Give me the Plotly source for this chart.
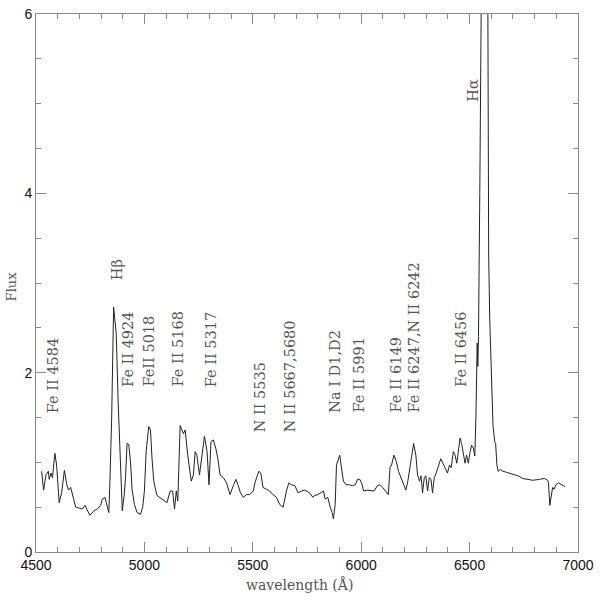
import plotly.graph_objects as go

# Spectrum
wavelength = [
    4526, 4535, 4546, 4557, 4561, 4569, 4576, 4587, 4595, 4607, 4618, 4631, 4642, 4650, 4660,
    4671, 4683, 4699, 4714, 4726, 4737, 4748, 4768, 4783, 4798, 4806, 4818, 4826, 4836, 4841,
    4849, 4858, 4864, 4870, 4879, 4890, 4898, 4907, 4913, 4920, 4928, 4937, 4943, 4954, 4966,
    4982, 4992, 5000, 5008, 5020, 5028, 5035, 5043, 5058, 5081, 5104, 5119, 5130, 5139, 5147,
    5154, 5165, 5173, 5180, 5188, 5200, 5216, 5226, 5234, 5242, 5254, 5265, 5277, 5289, 5298,
    5307, 5318, 5329, 5338, 5349, 5364, 5379, 5395, 5410, 5422, 5433, 5443, 5456, 5471, 5486,
    5502, 5512, 5528, 5537, 5547, 5563, 5578, 5593, 5609, 5624, 5640, 5655, 5666, 5678, 5694,
    5709, 5724, 5739, 5762, 5777, 5785, 5800, 5816, 5826, 5834, 5846, 5857, 5866, 5872, 5880,
    5886, 5892, 5901, 5907, 5918, 5930, 5945, 5960, 5973, 5983, 5994, 6003, 6011, 6026, 6044,
    6059, 6075, 6087, 6099, 6113, 6125, 6133, 6140, 6151, 6162, 6172, 6184, 6197, 6206, 6215,
    6227, 6235, 6242, 6252, 6260, 6269, 6276, 6283, 6291, 6298, 6306, 6314, 6322, 6329, 6337,
    6346, 6357, 6367, 6377, 6387, 6398, 6407, 6415, 6425, 6433, 6441, 6448, 6456, 6463, 6471,
    6479, 6486, 6494, 6501, 6509, 6517, 6524, 6529, 6532, 6535, 6538, 6541, 6547, 6549, 6566,
    6583, 6588, 6593, 6601, 6608, 6616, 6620, 6626, 6632, 6642, 6654, 6669, 6684, 6703, 6723,
    6745, 6768, 6791, 6822, 6845, 6860, 6864, 6870, 6876, 6883, 6890, 6898, 6910, 6921, 6932,
    6941,
]
flux = [
    0.90, 0.69, 0.86, 0.90, 0.81, 0.88, 0.83, 1.10, 0.97, 0.55, 0.66, 0.91, 0.75, 0.69, 0.72,
    0.61, 0.50, 0.49, 0.48, 0.52, 0.46, 0.41, 0.46, 0.48, 0.52, 0.59, 0.61, 0.53, 0.44, 0.79,
    1.49, 2.73, 2.59, 2.44, 1.67, 0.94, 0.46, 0.64, 0.83, 1.21, 1.20, 0.97, 0.70, 0.53, 0.44,
    0.42, 0.50, 0.68, 1.12, 1.40, 1.36, 1.05, 0.79, 0.63, 0.59, 0.55, 0.68, 0.68, 0.48, 0.68,
    0.57, 1.41, 1.36, 1.32, 1.36, 1.08, 0.79, 0.86, 1.12, 1.08, 0.86, 1.05, 1.29, 1.12, 0.75,
    1.23, 1.25, 1.16, 1.05, 0.86, 0.83, 0.77, 0.64, 0.74, 0.81, 0.74, 0.66, 0.61, 0.64, 0.64,
    0.68, 0.79, 0.90, 0.88, 0.72, 0.70, 0.68, 0.64, 0.61, 0.53, 0.50, 0.68, 0.77, 0.75, 0.74,
    0.66, 0.68, 0.69, 0.66, 0.61, 0.63, 0.64, 0.66, 0.68, 0.59, 0.61, 0.50, 0.44, 0.37, 0.53,
    0.97, 1.01, 1.08, 0.97, 0.79, 0.75, 0.75, 0.74, 0.75, 0.81, 0.81, 0.76, 0.68, 0.69, 0.68,
    0.68, 0.74, 0.75, 0.72, 0.68, 0.64, 0.94, 0.97, 1.08, 1.01, 0.90, 0.83, 0.75, 0.69, 0.79,
    0.97, 1.14, 1.21, 1.08, 0.86, 0.79, 0.85, 0.66, 0.83, 0.85, 0.68, 0.83, 0.81, 0.66, 0.83,
    0.88, 0.97, 1.04, 0.99, 0.94, 0.88, 0.97, 0.94, 1.12, 1.08, 0.99, 1.16, 1.27, 1.21, 1.07,
    0.99, 1.08, 0.99, 1.10, 1.19, 1.16, 1.07, 1.49, 1.93, 2.33, 2.07, 2.40, 4.00, 7.00, 10.0,
    7.00, 3.30, 2.59, 1.78, 1.41, 1.23, 1.21, 0.97, 0.90, 0.92, 0.90, 0.89, 0.88, 0.86, 0.85,
    0.82, 0.81, 0.80, 0.81, 0.82, 0.80, 0.77, 0.52, 0.64, 0.72, 0.70, 0.75, 0.77, 0.75, 0.74,
    0.73,
]

# Line identifications
line_labels = [
    "Fe II 4584", "H\u03b2", "Fe II 4924", "FeII 5018", "Fe II 5168", "Fe II 5317",
    "N II 5535", "N II 5667,5680", "Na I D1,D2", "Fe II 5991", "Fe II 6149",
    "Fe II 6247,N II 6242", "Fe II 6456", "H\u03b1",
]
label_wavelength = [4578, 4872, 4927, 5022, 5156, 5307, 5532, 5670, 5881, 5991, 6161, 6242, 6463, 6518]
label_flux = [1.53, 3.01, 1.82, 1.82, 1.82, 1.82, 1.31, 1.31, 1.53, 1.53, 1.53, 1.53, 1.82, 5.00]

x_ticks = [4500, 5000, 5500, 6000, 6500, 7000]
y_ticks = [0, 2, 4, 6]

axis_col = "#8a8a8a"
text_col = "#555555"
serif = "DejaVu Serif"

fig = go.Figure()
fig.add_trace(go.Scatter(x=wavelength, y=flux, mode="lines",
                         line=dict(color="#222222", width=1)))

for lab, lx, ly in zip(line_labels, label_wavelength, label_flux):
    fig.add_annotation(x=lx, y=ly, xref="x", yref="y", text=lab, textangle=-90,
                       showarrow=False, xanchor="center", yanchor="bottom",
                       font=dict(family=serif, size=14.5, color=text_col))

fig.add_annotation(x=-0.045, y=0.493, xref="paper", yref="paper", text="Flux",
                   textangle=-90, showarrow=False, xanchor="center", yanchor="middle",
                   font=dict(family=serif, size=13, color=text_col))
fig.add_annotation(x=0.486, y=-0.060, xref="paper", yref="paper", text="wavelength (\u00c5)",
                   showarrow=False, xanchor="center", yanchor="middle",
                   font=dict(family=serif, size=14, color=text_col))

common = dict(showgrid=False, zeroline=False, showline=True, linecolor=axis_col, linewidth=1,
              mirror="ticks", ticks="inside", tickcolor=axis_col, ticklen=10, tickwidth=1,
              ticklabeloverflow="allow",
              tickfont=dict(family="Liberation Sans", size=14, color="#111111"))

fig.update_xaxes(range=[4500, 7000], tickvals=x_ticks,
                 minor=dict(dtick=100, tick0=4500, ticks="inside", ticklen=5,
                            tickcolor=axis_col, showgrid=False), **common)
fig.update_yaxes(range=[0, 6], tickvals=y_ticks,
                 minor=dict(dtick=0.5, tick0=0, ticks="inside", ticklen=5,
                            tickcolor=axis_col, showgrid=False), **common)

fig.update_layout(width=600, height=600, margin=dict(l=36, r=18, t=6, b=48),
                  plot_bgcolor="white", paper_bgcolor="white", showlegend=False)

fig.write_html("out.html", config={"displayModeBar": False},
               post_script="document.body.style.margin='0';document.body.style.overflow='hidden';")
